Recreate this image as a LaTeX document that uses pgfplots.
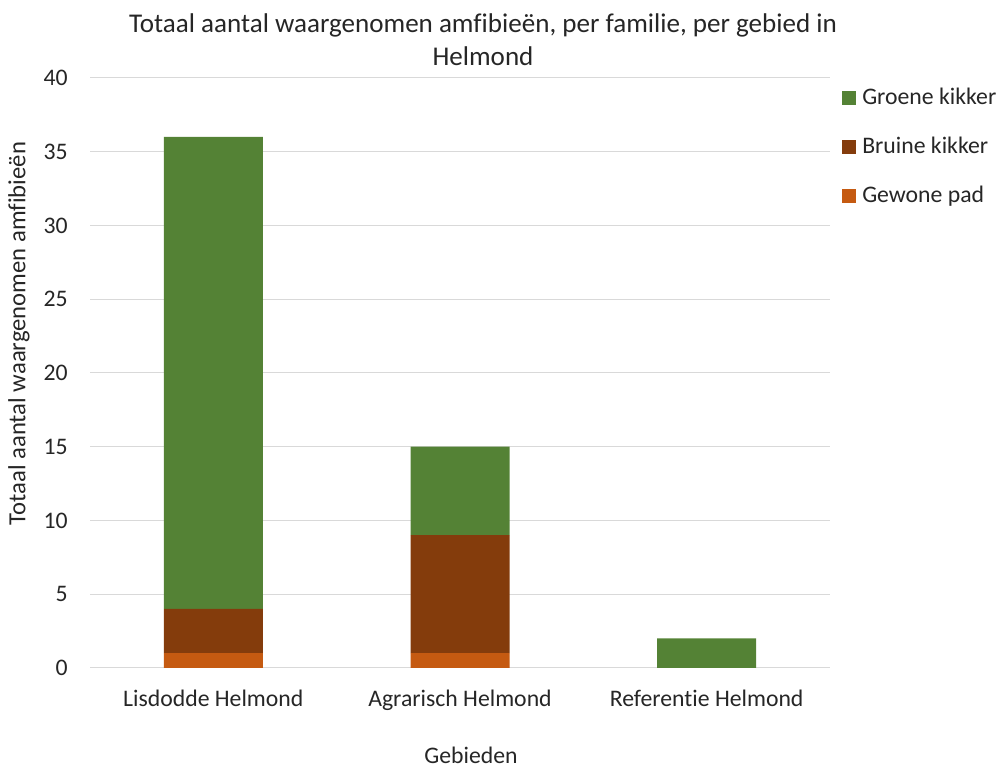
\documentclass[border=0pt]{standalone}
\usepackage{pgfplots}
\pgfplotsset{compat=1.18}
\usepackage{fontspec}
\setmainfont{Carlito}[Ligatures=NoCommon]

\definecolor{groen}{HTML}{548235}
\definecolor{bruin}{HTML}{843C0C}
\definecolor{oranje}{HTML}{C55A11}
\definecolor{rooster}{HTML}{D9D9D9}
\definecolor{tekst}{HTML}{262626}

\newcommand{\lblfont}{\fontsize{17.8pt}{21pt}\selectfont}
\newcommand{\ylblfont}{\fontsize{18.5pt}{22pt}\selectfont}
\newcommand{\titlefont}{\fontsize{20.3pt}{24.75pt}\selectfont}

\begin{document}
\begin{tikzpicture}[x=0.75pt, y=0.75pt]
\useasboundingbox (-90,-102) rectangle (913,668);
\begin{axis}[
  at={(0,0)}, anchor=south west,
  scale only axis, width=555pt, height=442.5pt,
  xmin=-0.5, xmax=2.5, ymin=0, ymax=40,
  ybar stacked, bar width=74.25pt,
  xtick={0,1,2},
  xticklabels={Lisdodde Helmond, Agrarisch Helmond, Referentie Helmond},
  ytick={0,5,...,40},
  ymajorgrids, grid style={color=rooster, line width=0.75pt},
  axis line style={draw=none}, tick style={draw=none},
  tick label style={font=\lblfont, text=tekst},
  /pgf/number format/assume math mode=true,
  xticklabel style={anchor=base, inner sep=0pt, yshift=-29.25pt},
  yticklabel style={anchor=east, inner sep=0pt, xshift=-16.5pt},
  xlabel={Gebieden},
  xlabel style={font=\lblfont, text=tekst, at={(axis description cs:0.5149,0)}, anchor=base, inner sep=0pt, yshift=-72pt},
  ylabel={Totaal aantal waargenomen amfibieën},
  ylabel style={font=\ylblfont, text=tekst, at={(axis description cs:-0.0959,0.567)}, anchor=center, inner sep=0pt},
  title={Totaal aantal waargenomen amfibieën, per familie, per gebied in\\Helmond},
  title style={font=\titlefont, text=tekst, align=center, at={(axis description cs:0.5311,1)}, anchor=base, inner sep=0pt, yshift=3pt},
  legend cell align=left,
  reverse legend,
  legend image code/.code={\fill[#1] (0pt,-5.25pt) rectangle (10.5pt,5.25pt);},
  legend style={
    at={(axis description cs:1.0162,0.983)}, anchor=north west,
    draw=none, fill=none, inner sep=0pt,
    font=\lblfont, text=tekst,
    row sep=21.75pt, column sep=4.5pt,
    nodes={inner sep=0pt, text height=12pt, text depth=3pt},
  },
]
\addplot[fill=oranje, draw=none] coordinates {(0,1) (1,1) (2,0)};
\addplot[fill=bruin, draw=none] coordinates {(0,3) (1,8) (2,0)};
\addplot[fill=groen, draw=none] coordinates {(0,32) (1,6) (2,2)};
\legend{Gewone pad, Bruine kikker, Groene kikker}
\end{axis}
\end{tikzpicture}
\end{document}
